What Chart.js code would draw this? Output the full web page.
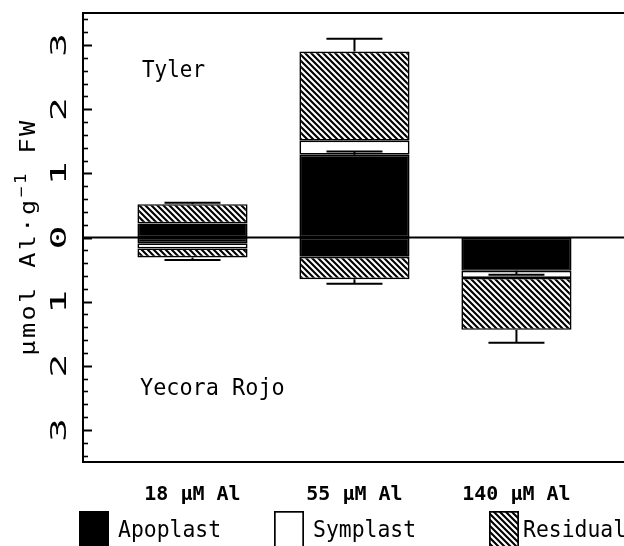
<!DOCTYPE html>
<html><head><meta charset="utf-8">
<script src="https://cdn.jsdelivr.net/npm/chart.js@4.4.0/dist/chart.umd.min.js"></script>
<style>html,body{margin:0;padding:0;background:#fff;}</style>
</head><body>
<canvas id="c" width="624" height="546"></canvas>
<script>
// ---- data ----
const categories = ['18 µM Al', '55 µM Al', '140 µM Al'];
const seriesNames = ['Apoplast', 'Symplast', 'Residual'];
const cultivars = ['Tyler', 'Yecora Rojo'];
const tylerApoplast = [0.22, 1.29, 0];
const tylerSymplast = [0, 0.22, 0];
const tylerResidual = [0.30, 1.39, 0];
const yecoraApoplast = [-0.09, -0.30, -0.52];
const yecoraSymplast = [-0.08, 0, -0.11];
const yecoraResidual = [-0.14, -0.35, -0.81];
const tylerApoplastErr = [0, 0.05, 0];
const tylerTotalErr = [0.02, 0.20, 0];
const yecoraApoplastErr = [0, 0, 0.06];
const yecoraTotalErr = [0.04, 0.07, 0.20];
const yTickValues = [-3, -2, -1, 0, 1, 2, 3];
const yTickLabels = ['3', '2', '1', '0', '1', '2', '3'];

const MONO = "'DejaVu Sans Mono', 'Liberation Mono', monospace";
const canvas = document.getElementById('c');
const ctx0 = canvas.getContext('2d');

function makeHatch(g0) {
  const s = 6;
  const c = document.createElement('canvas'); c.width = s; c.height = s;
  const g = c.getContext('2d');
  g.fillStyle = '#fff'; g.fillRect(0, 0, s, s);
  g.strokeStyle = '#000'; g.lineWidth = 2.1;
  g.beginPath();
  g.moveTo(-2, -2); g.lineTo(s + 2, s + 2);
  g.moveTo(s - 3, -3); g.lineTo(s + 3, 3);
  g.moveTo(-3, s - 3); g.lineTo(3, s + 3);
  g.stroke();
  return g0.createPattern(c, 'repeat');
}
const hatch = makeHatch(ctx0);
const fills = ['#000', '#fff', hatch];

const pts = arr => arr.map((v, i) => ({ x: i + 1, y: v === 0 ? null : v }));
const groups = [[tylerApoplast, tylerSymplast, tylerResidual], [yecoraApoplast, yecoraSymplast, yecoraResidual]];
const datasets = [];
groups.forEach((grp, gi) => grp.forEach((arr, si) => datasets.push({
  label: seriesNames[si] + ' (' + cultivars[gi] + ')',
  data: pts(arr),
  backgroundColor: fills[si],
  borderColor: '#000',
  borderWidth: 1.7,
  borderSkipped: false,
  stack: 'all',
  categoryPercentage: 0.68,
  barPercentage: 1
})));

const sum = (a, b, c, i) => a[i] + b[i] + c[i];

function rotText(ctx, text, x, y, font, stretch) {
  ctx.save();
  ctx.translate(x, y);
  ctx.rotate(-Math.PI / 2);
  ctx.scale(stretch, 1);
  ctx.font = font;
  ctx.textAlign = 'center';
  ctx.textBaseline = 'alphabetic';
  ctx.fillText(text, 0, 0);
  ctx.restore();
}
function hText(ctx, text, x, y, size, sx) {
  ctx.save();
  ctx.translate(x, y);
  ctx.scale(sx, 1);
  ctx.font = size + 'px ' + MONO;
  ctx.textAlign = 'left';
  ctx.textBaseline = 'alphabetic';
  ctx.fillText(text, 0, 0);
  ctx.restore();
}

const deco = {
  id: 'deco',
  beforeDatasetsDraw(chart) {
    const { ctx, chartArea: a, scales: { y } } = chart;
    const y0 = y.getPixelForValue(0);
    ctx.save();
    ctx.strokeStyle = '#000'; ctx.lineWidth = 2;
    ctx.beginPath(); ctx.moveTo(a.left, y0); ctx.lineTo(a.right, y0); ctx.stroke();
    ctx.restore();
  },
  afterDatasetsDraw(chart) {
    const { ctx, scales: { x, y } } = chart;
    ctx.save();
    ctx.strokeStyle = '#000'; ctx.lineWidth = 2;
    const err = (px, from, to) => {
      if (from === to) return;
      const y1 = y.getPixelForValue(from), y2 = y.getPixelForValue(to);
      ctx.beginPath();
      ctx.moveTo(px, y1); ctx.lineTo(px, y2);
      ctx.moveTo(px - 28, y2); ctx.lineTo(px + 28, y2);
      ctx.stroke();
    };
    categories.forEach((c, i) => {
      const px = x.getPixelForValue(i + 1);
      const tTot = sum(tylerApoplast, tylerSymplast, tylerResidual, i);
      const yTot = sum(yecoraApoplast, yecoraSymplast, yecoraResidual, i);
      err(px, tylerApoplast[i], tylerApoplast[i] + tylerApoplastErr[i]);
      err(px, tTot, tTot + tylerTotalErr[i]);
      err(px, yecoraApoplast[i], yecoraApoplast[i] - yecoraApoplastErr[i]);
      err(px, yTot, yTot - yecoraTotalErr[i]);
    });
    ctx.restore();
  },
  afterDraw(chart) {
    const { ctx, chartArea: a, scales: { y } } = chart;
    ctx.save();
    ctx.strokeStyle = '#000'; ctx.fillStyle = '#000';
    // top frame line
    ctx.lineWidth = 2;
    ctx.beginPath(); ctx.moveTo(a.left - 1, a.top); ctx.lineTo(a.right, a.top); ctx.stroke();
    // inward tick marks (major + minor)
    for (let k = -17; k <= 17; k++) {
      const v = k * 0.2;
      const major = k % 5 === 0;
      const py = Math.round(y.getPixelForValue(v)) + 0.5;
      ctx.lineWidth = major ? 2 : 1.6;
      ctx.beginPath(); ctx.moveTo(a.left, py); ctx.lineTo(a.left + (major ? 9 : 5), py); ctx.stroke();
    }
    // y tick labels (rotated)
    yTickValues.forEach((v, i) => {
      rotText(ctx, yTickLabels[i], 66, y.getPixelForValue(v), '21px ' + MONO, 1.9);
    });
    // y title with superscript
    ctx.save();
    ctx.translate(35, 237);
    ctx.rotate(-Math.PI / 2);
    ctx.scale(1.2, 1);
    ctx.textBaseline = 'alphabetic';
    ctx.letterSpacing = '2px';
    const parts = [['µmol Al·g', '21px ' + MONO, 0], ['−1', '15px ' + MONO, -9], [' FW', '21px ' + MONO, 0]];
    let total = 0;
    parts.forEach(p => { ctx.font = p[1]; p.push(ctx.measureText(p[0]).width); total += p[3]; });
    let cx = -total / 2;
    parts.forEach(p => { ctx.font = p[1]; ctx.textAlign = 'left'; ctx.fillText(p[0], cx, p[2]); cx += p[3]; });
    ctx.restore();
    // cultivar annotations
    hText(ctx, cultivars[0], 142, 77, 23, 0.91);
    hText(ctx, cultivars[1], 140, 395, 23, 0.95);
    // legend
    const lx = [79, 274, 489];
    const tx = [118, 313, 523];
    seriesNames.forEach((n, i) => {
      ctx.fillStyle = fills[i];
      ctx.fillRect(lx[i], 511, 30, 40);
      ctx.lineWidth = 1.7; ctx.strokeStyle = '#000';
      ctx.strokeRect(lx[i] + 0.85, 511.85, 28.3, 40);
      ctx.fillStyle = '#000';
      hText(ctx, n, tx[i], 537, 23, 0.93);
    });
    ctx.restore();
  }
};

new Chart(canvas, {
  type: 'bar',
  data: { datasets },
  options: {
    responsive: false,
    animation: false,
    devicePixelRatio: 1,
    layout: { padding: { left: 83, top: 13, right: 0, bottom: 0 } },
    plugins: { legend: { display: false }, tooltip: { enabled: false } },
    scales: {
      x: {
        type: 'linear',
        min: 0.324, max: 3.664,
        offset: false,
        grid: { display: false, drawTicks: false },
        border: { display: true, color: '#000', width: 2 },
        afterBuildTicks: s => { s.ticks = categories.map((c, i) => ({ value: i + 1 })); },
        afterFit: s => { s.height = 84; },
        ticks: {
          callback: v => categories[v - 1],
          color: '#000',
          font: { family: MONO, size: 20, weight: 'bold' },
          padding: 21,
          maxRotation: 0, minRotation: 0,
          autoSkip: false
        }
      },
      y: {
        type: 'linear',
        stacked: true,
        min: -3.5, max: 3.5,
        grid: { display: false, drawTicks: false },
        border: { display: true, color: '#000', width: 2 },
        ticks: { display: false },
        afterFit: s => { s.width = 0; }
      }
    }
  },
  plugins: [deco]
});
</script>
</body></html>
